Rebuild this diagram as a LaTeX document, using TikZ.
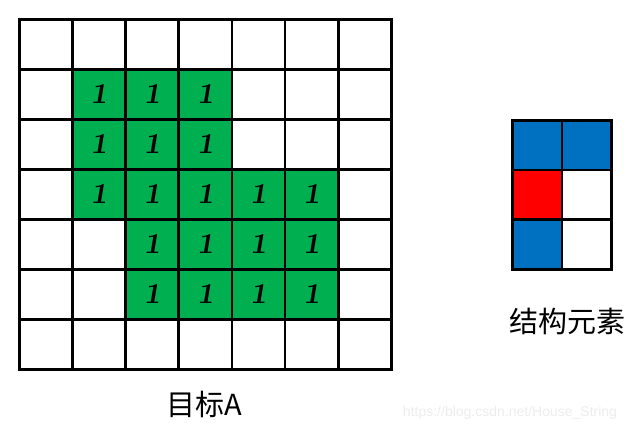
\documentclass[tikz,border=0pt]{standalone}
\usepackage{fontspec}
\newfontfamily\cjk{Noto Sans CJK SC}
\newfontfamily\wm{Liberation Sans}
\definecolor{cgreen}{HTML}{00B050}
\definecolor{cblue}{HTML}{0070C0}
\definecolor{cred}{HTML}{FF0000}
\begin{document}
\begin{tikzpicture}[x=1pt,y=-1pt,
  cell/.style={draw=black, line width=2.7pt, minimum width=53.14pt, minimum height=50pt,
    inner sep=0pt, anchor=north west, fill=white},
  onecell/.style={cell, fill=cgreen, font=\fontsize{29}{29}\selectfont\bfseries\slshape},
  secell/.style={draw=black, line width=2.7pt, minimum width=49.5pt, minimum height=49.7pt,
    inner sep=0pt, anchor=north west},
  lbl/.style={font=\cjk\fontsize{29}{29}\selectfont, inner sep=0pt}]
\useasboundingbox (0,0) rectangle (640,430);
\fill[white] (0,0) rectangle (640,430);
% watermark
\node[font=\wm\fontsize{14}{14}\selectfont, text=black!7, inner sep=0pt] (wmark) at (510,413) {https://blog.csdn.net/House\_String};
% target grid
\foreach \r in {0,...,6}
  \foreach \c in {0,...,6}
    \node[cell] (a-\r-\c) at ({18+53.14*\c},{18+50*\r}) {};
\foreach \r/\c in {1/1,1/2,1/3,2/1,2/2,2/3,3/1,3/2,3/3,3/4,3/5,4/2,4/3,4/4,4/5,5/2,5/3,5/4,5/5}
  \node[onecell] (one-\r-\c) at ({18+53.14*\c},{18+50*\r}) {\raisebox{-3pt}{1}\hspace{5pt}};
% structuring element
\node[secell, fill=cblue] (s-0-0) at (511,119) {};
\node[secell, fill=cblue] (s-0-1) at (560.5,119) {};
\node[secell, fill=cred] (s-1-0) at (511,168.7) {};
\node[secell, fill=white] (s-1-1) at (560.5,168.7) {};
\node[secell, fill=cblue] (s-2-0) at (511,218.4) {};
\node[secell, fill=white] (s-2-1) at (560.5,218.4) {};
% labels
\node[lbl] (lblA) at (204,404) {目标A};
\node[lbl] (lblB) at (567,321) {结构元素};
\end{tikzpicture}
\end{document}
